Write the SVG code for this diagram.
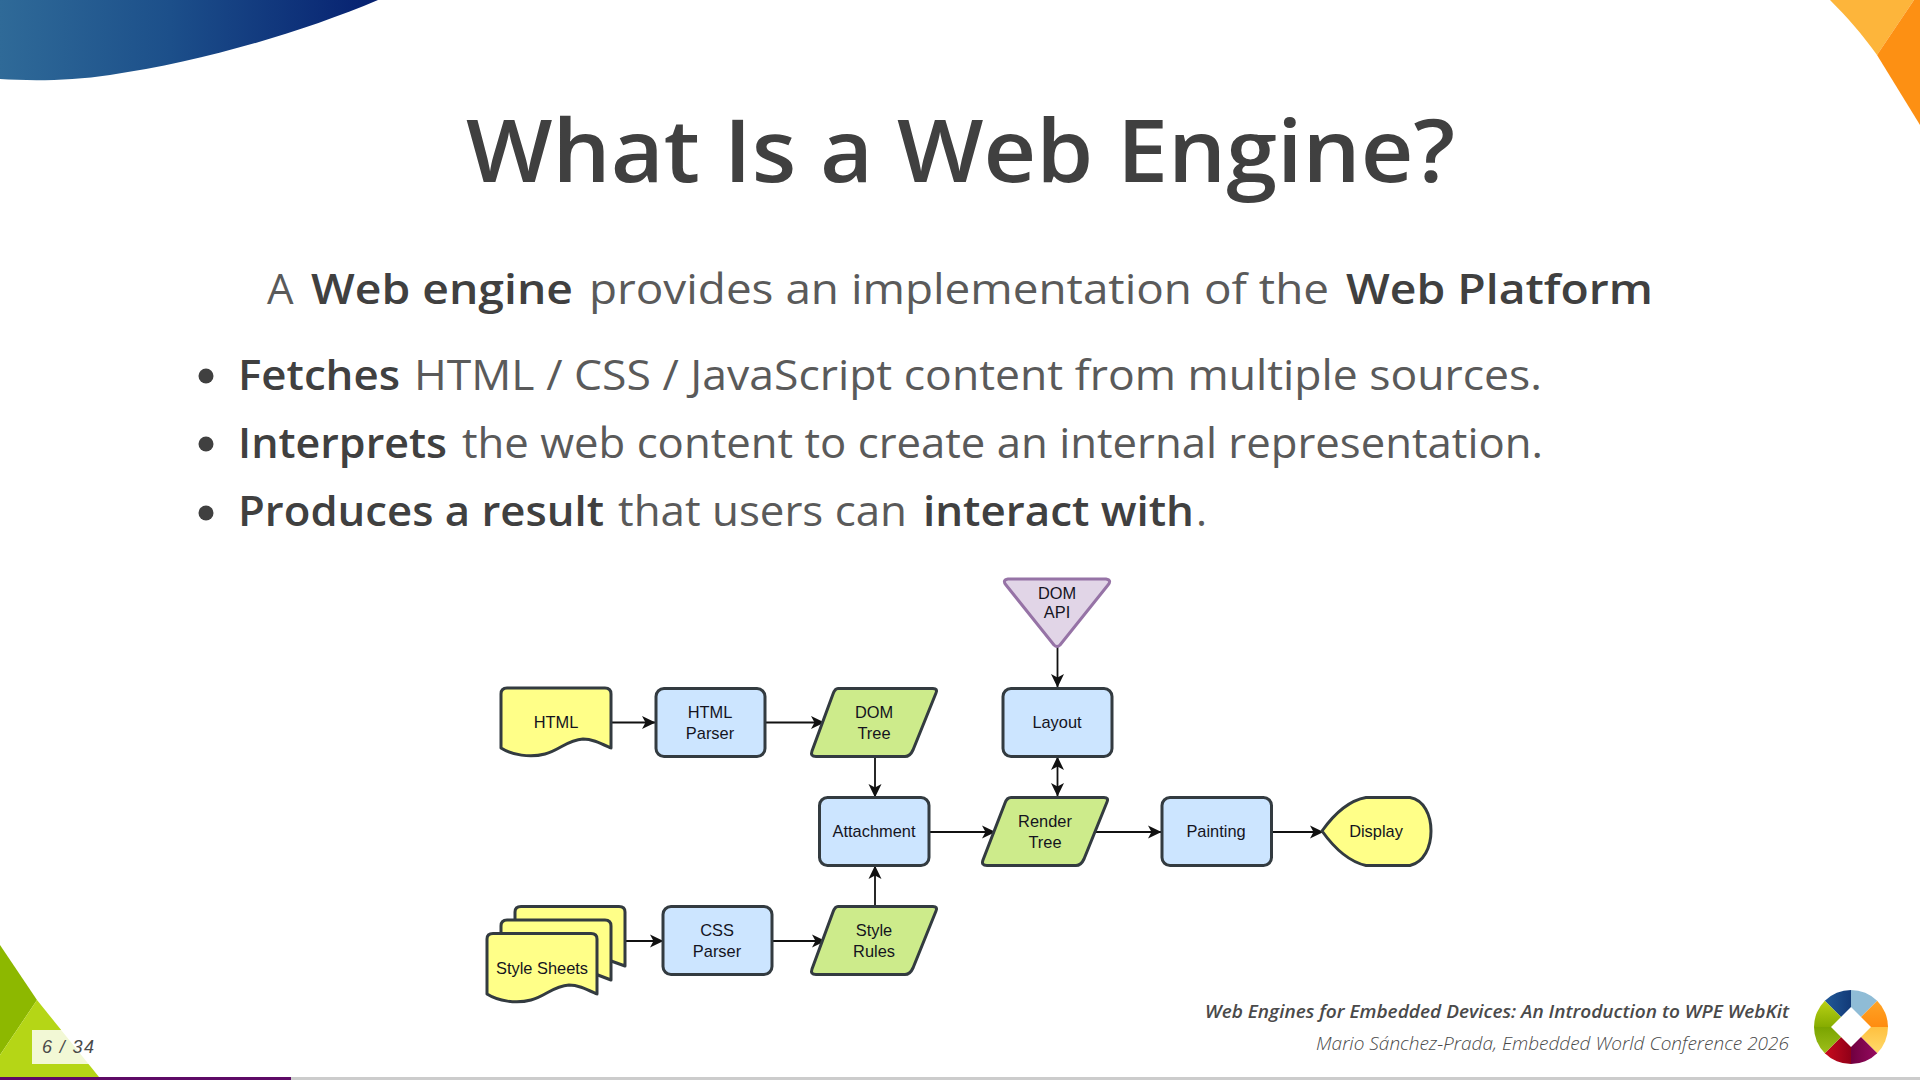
<svg xmlns="http://www.w3.org/2000/svg" width="1920" height="1080" viewBox="0 0 1920 1080">
<style>
text{font-family:"Open Sans","Noto Sans","Liberation Sans",sans-serif;fill:#4a4a4a}
.t{font-size:86px;font-weight:650;fill:#404040}
.b{font-size:42px;font-weight:400;fill:#5a5a5a}
.s{font-size:42px;font-weight:650;fill:#404040}
.f{font-size:18.500px;font-style:italic}
.n{fill:#cce5ff;stroke:#333b40;stroke-width:3}
.y{fill:#ffff88;stroke:#333b40;stroke-width:3;stroke-linejoin:round}
.g{fill:#cdeb8b;stroke:#333b40;stroke-width:3;stroke-linejoin:round}
.l{font-family:"Liberation Sans",Arial,sans-serif;font-size:16.4px;fill:#14141e;text-anchor:middle}
.c{fill:none;stroke:#111;stroke-width:1.8}
</style>
<defs>
<linearGradient id="blue" x1="0" x2="1" y1="0" y2="0"><stop offset="0" stop-color="#2f6a98"/><stop offset=".45" stop-color="#1c4f8a"/><stop offset="1" stop-color="#062070"/></linearGradient>
<linearGradient id="lb" x1="0" x2="1" y1="0" y2="0"><stop offset="0" stop-color="#2a6aa8"/><stop offset="1" stop-color="#123a78"/></linearGradient>
<linearGradient id="lo" x1="0" x2="0" y1="0" y2="1"><stop offset="0" stop-color="#ffb030"/><stop offset="1" stop-color="#ff8c10"/></linearGradient>
<linearGradient id="ly" x1="0" x2="0" y1="0" y2="1"><stop offset="0" stop-color="#ffc040"/><stop offset="1" stop-color="#ffe880"/></linearGradient>
<linearGradient id="lr" x1="0" x2="1" y1="0" y2="0"><stop offset="0" stop-color="#e81020"/><stop offset="1" stop-color="#900018"/></linearGradient>
<linearGradient id="lp" x1="0" x2="1" y1="0" y2="0"><stop offset="0" stop-color="#700040"/><stop offset="1" stop-color="#a81070"/></linearGradient>
<linearGradient id="lg" x1="0" x2="0" y1="0" y2="1"><stop offset="0" stop-color="#7aa400"/><stop offset="1" stop-color="#b0cc28"/></linearGradient>
<linearGradient id="ll" x1="0" x2="0" y1="0" y2="1"><stop offset="0" stop-color="#d4e420"/><stop offset="1" stop-color="#86ac00"/></linearGradient>
<marker id="a" viewBox="0 0 15 14" markerUnits="userSpaceOnUse" markerWidth="15" markerHeight="14" refX="14" refY="7" orient="auto-start-reverse"><path d="M1 0.500L14.500 7L1 13.500L4.500 7Z" fill="#111"/></marker>
<clipPath id="lc"><circle cx="1851" cy="1027" r="37"/></clipPath>
</defs>
<rect width="1920" height="1080" fill="#fff"/>
<g id="decor">
<path d="M0 0H378C300 33 200 62 110 75C70 81 30 81 0 79Z" fill="url(#blue)"/>
<path d="M1830 0H1914L1877 55C1862 34 1847 17 1830 0Z" fill="#fdb53b"/>
<path d="M1914 0H1920V125L1877 55Z" fill="#fd9013"/>
<path d="M0 945L37 1000L0 1055Z" fill="#8db800"/>
<path d="M37 1000L99 1077H0V1055Z" fill="#b5d616"/>
<rect y="1077" width="291" height="3" fill="#5e0a66"/>
<rect x="291" y="1077" width="1629" height="3" fill="#cccccc"/>
<rect x="32" y="1030" width="64" height="34" fill="#fff" fill-opacity=".82"/>
</g>
<g id="text">
<text class="t" x="466" y="182" textLength="989" lengthAdjust="spacingAndGlyphs">What Is a Web Engine?</text>
<text class="b" x="267" y="303.500">A</text>
<text class="s" x="311" y="303.500" textLength="262" lengthAdjust="spacingAndGlyphs">Web engine</text>
<text class="b" x="589" y="303.500" textLength="740" lengthAdjust="spacingAndGlyphs">provides an implementation of the</text>
<text class="s" x="1346" y="303.500" textLength="307" lengthAdjust="spacingAndGlyphs">Web Platform</text>
<circle cx="206" cy="376" r="7.500" fill="#404040"/>
<circle cx="206" cy="444" r="7.500" fill="#404040"/>
<circle cx="206" cy="513" r="7.500" fill="#404040"/>
<text class="s" x="238" y="389.500" textLength="162" lengthAdjust="spacingAndGlyphs">Fetches</text>
<text class="b" x="414" y="389.500" textLength="1128" lengthAdjust="spacingAndGlyphs">HTML / CSS / JavaScript content from multiple sources.</text>
<text class="s" x="238" y="457.500" textLength="209" lengthAdjust="spacingAndGlyphs">Interprets</text>
<text class="b" x="462" y="457.500" textLength="1081" lengthAdjust="spacingAndGlyphs">the web content to create an internal representation.</text>
<text class="s" x="238" y="525.500" textLength="366" lengthAdjust="spacingAndGlyphs">Produces a result</text>
<text class="b" x="618" y="525.500" textLength="289" lengthAdjust="spacingAndGlyphs">that users can</text>
<text class="s" x="923" y="525.500" textLength="271" lengthAdjust="spacingAndGlyphs">interact with</text>
<text class="b" x="1196" y="525.500">.</text>
<text x="42" y="1053" font-size="18" font-style="italic" textLength="52" style="font-family:'Liberation Sans',sans-serif">6 / 34</text>
<text class="f" x="1205" y="1018" font-weight="600" textLength="584" lengthAdjust="spacingAndGlyphs">Web Engines for Embedded Devices: An Introduction to WPE WebKit</text>
<text class="f" x="1316" y="1050" font-weight="350" textLength="473" lengthAdjust="spacingAndGlyphs">Mario Sánchez-Prada, Embedded World Conference 2026</text>
</g>
<g id="connectors">
<path class="c" marker-end="url(#a)" d="M611 722.500H655"/>
<path class="c" marker-end="url(#a)" d="M765 722.500H824"/>
<path class="c" marker-end="url(#a)" d="M875 756V797"/>
<path class="c" marker-end="url(#a)" d="M875 906V866"/>
<path class="c" marker-end="url(#a)" d="M625 941H663"/>
<path class="c" marker-end="url(#a)" d="M772 941H825"/>
<path class="c" marker-end="url(#a)" d="M929 832H995"/>
<path class="c" marker-end="url(#a)" d="M1096 832H1161"/>
<path class="c" marker-end="url(#a)" d="M1272 832H1323"/>
<path class="c" marker-end="url(#a)" d="M1057.500 647V687"/>
<path class="c" marker-start="url(#a)" marker-end="url(#a)" d="M1057.500 757V796"/>
</g>
<g id="node-html"><path class="y" d="M501 694Q501 688 507 688H605Q611 688 611 694V748C600 743 592 739 583 739C567 740 560 750 545 754C530 758 512 755 501 748Z"/><text class="l" x="556" y="728">HTML</text></g>
<g id="node-html-parser"><rect class="n" x="656" y="688.500" width="109" height="68" rx="8"/><text class="l" x="710" y="718">HTML</text><text class="l" x="710" y="738.500">Parser</text></g>
<g id="node-dom-tree"><path class="g" d="M838 688.500H933Q938 688.500 936 693L913 750Q910 756.500 905 756.500H816Q810 756.500 812 751L833 694Q835 688.500 838 688.500Z"/><text class="l" x="874" y="718">DOM</text><text class="l" x="874" y="738.500">Tree</text></g>
<g id="node-dom-api"><path d="M1008 579H1106Q1112 580 1108 585L1060 645Q1057 648 1054 645L1006 585Q1002 580 1008 579Z" fill="#e1d5e7" stroke="#9673a6" stroke-width="3" stroke-linejoin="round"/><text class="l" x="1057" y="598.500">DOM</text><text class="l" x="1057" y="618">API</text></g>
<g id="node-layout"><rect class="n" x="1003" y="688.500" width="109" height="68" rx="8"/><text class="l" x="1057" y="727.500">Layout</text></g>
<g id="node-attachment"><rect class="n" x="819.500" y="797.500" width="109.500" height="68" rx="8"/><text class="l" x="874" y="836.500">Attachment</text></g>
<g id="node-render-tree"><path class="g" d="M1011 797.500H1104Q1109 797.500 1107 802L1084 859Q1081 865.500 1076 865.500H987Q981 865.500 983 860L1005 803Q1007 797.500 1011 797.500Z"/><text class="l" x="1045" y="827">Render</text><text class="l" x="1045" y="848">Tree</text></g>
<g id="node-painting"><rect class="n" x="1162" y="797.500" width="109.500" height="68" rx="8"/><text class="l" x="1216" y="836.500">Painting</text></g>
<g id="node-display"><path class="y" d="M1322 831C1332 817 1346 801 1366 797.500H1410C1424 800 1431 815 1431 831C1431 847 1424 862 1410 865.500H1366C1346 861 1332 845 1322 831Z"/><text class="l" x="1376" y="836.500">Display</text></g>
<g id="node-style-sheets">
<path class="y" d="M515 912Q515 906.500 521 906.500H619Q625 906.500 625 912V966L600 957L515 960Z"/>
<path class="y" d="M501 926Q501 920 507 920H605Q611 920 611 926V980L590 972L501 975Z"/>
<path class="y" d="M487 939Q487 933.500 493 933.500H591Q597 933.500 597 939V994C586 989 578 985 569 985C553 986 546 996 531 1000C516 1004 498 1001 487 994Z"/>
<text class="l" x="542" y="973.500">Style Sheets</text></g>
<g id="node-css-parser"><rect class="n" x="663" y="906.500" width="109" height="68" rx="8"/><text class="l" x="717" y="936">CSS</text><text class="l" x="717" y="956.500">Parser</text></g>
<g id="node-style-rules"><path class="g" d="M838 906.500H933Q938 906.500 936 911L913 968Q910 974.500 905 974.500H816Q810 974.500 812 969L833 912Q835 906.500 838 906.500Z"/><text class="l" x="874" y="936">Style</text><text class="l" x="874" y="956.500">Rules</text></g>
<g id="logo"><g clip-path="url(#lc)">
<path d="M1851 1027L1811 987H1851Z" fill="url(#lb)"/>
<path d="M1851 1027L1851 987H1891Z" fill="#8fbcd6"/>
<path d="M1851 1027L1891 987V1027Z" fill="url(#lo)"/>
<path d="M1851 1027H1891V1067Z" fill="url(#ly)"/>
<path d="M1851 1027L1891 1067H1851Z" fill="url(#lp)"/>
<path d="M1851 1027V1067H1811Z" fill="url(#lr)"/>
<path d="M1851 1027L1811 1067V1027Z" fill="url(#lg)"/>
<path d="M1851 1027H1811V987Z" fill="url(#ll)"/>
</g><path d="M1851 1007L1871 1027L1851 1047L1831 1027Z" fill="#fff"/></g>
</svg>
